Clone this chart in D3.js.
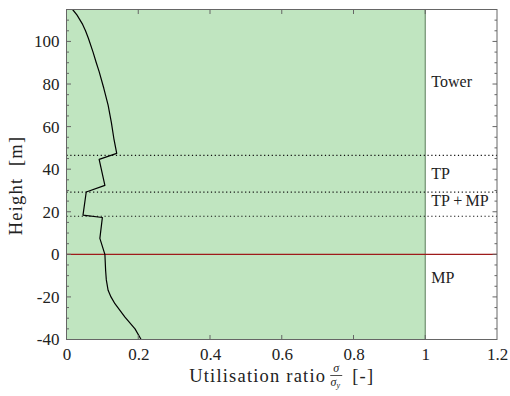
<!DOCTYPE html>
<html>
<head>
<meta charset="utf-8">
<script src="https://cdn.jsdelivr.net/npm/d3@7"></script>
<style>
  html, body { margin: 0; padding: 0; background: #fff; }
  svg { display: block; }
</style>
</head>
<body>
<div id="chart"></div>
<script>
// ---- data ----
const heights = [115, 112.5, 108, 105, 101.5, 95, 90, 85.8, 78, 70.1, 62, 54.4, 50, 47.4, 44.6, 32.4, 29.3, 18.4, 17.3, 7.5, 0, -7.5, -12, -16.9, -20, -23.2, -29.5, -35, -40];
const ratios  = [0.017, 0.029, 0.045, 0.053, 0.061, 0.074, 0.083, 0.091, 0.104, 0.116, 0.125, 0.132, 0.137, 0.140, 0.091, 0.107, 0.055, 0.046, 0.100, 0.093, 0.107, 0.109, 0.111, 0.116, 0.124, 0.135, 0.163, 0.191, 0.208];
const xTicks = [0, 0.2, 0.4, 0.6, 0.8, 1, 1.2];
const yTicks = [-40, -20, 0, 20, 40, 60, 80, 100];
const yMinorTicks = d3.range(-40, 116, 5);
const boundaries = [46.5, 29.2, 17.9];
const seaLevel = 0;
const utilLimit = 1;
const sectionNames = ["Tower", "TP", "TP\u2009+\u2009MP", "MP"];
const sectionLabelY = [81, 38, 25.3, -11];

// ---- layout ----
const W = 510, H = 396;
const m = { left: 66.5, right: 13, top: 9.5, bottom: 56.5 };
const svg = d3.select("#chart").append("svg").attr("width", W).attr("height", H);

const x = d3.scaleLinear().domain([0, 1.2]).range([m.left, W - m.right]);
const y = d3.scaleLinear().domain([-40, 115]).range([H - m.bottom, m.top]);
const FONT = '"Liberation Serif", "Times New Roman", serif';
const TXT = "#222";

// green region
svg.append("rect")
  .attr("x", x(0)).attr("y", y(115))
  .attr("width", x(utilLimit) - x(0)).attr("height", y(-40) - y(115))
  .attr("fill", "#c0e5c0");
svg.append("line")
  .attr("x1", x(utilLimit)).attr("x2", x(utilLimit))
  .attr("y1", y(115)).attr("y2", y(-40))
  .attr("stroke", "#6f8f6f").attr("stroke-width", 1.2);

// dotted boundaries
svg.selectAll(".bnd").data(boundaries).enter().append("line")
  .attr("x1", x(0)).attr("x2", x(1.2))
  .attr("y1", d => y(d)).attr("y2", d => y(d))
  .attr("stroke", "#111").attr("stroke-width", 1.2)
  .attr("stroke-dasharray", "1.2,2.6");

// sea level
svg.append("line")
  .attr("x1", x(0)).attr("x2", x(1.2))
  .attr("y1", y(seaLevel)).attr("y2", y(seaLevel))
  .attr("stroke", "#9e1b1b").attr("stroke-width", 1.3);

// curve
const pts = heights.map((h, i) => [ratios[i], h]);
svg.append("path")
  .datum(pts)
  .attr("fill", "none").attr("stroke", "#000").attr("stroke-width", 1.2)
  .attr("stroke-linejoin", "round")
  .attr("d", d3.line().x(d => x(d[0])).y(d => y(d[1])));

// axes box
const axCol = "#666";
svg.append("rect")
  .attr("x", x(0)).attr("y", y(115))
  .attr("width", x(1.2) - x(0)).attr("height", y(-40) - y(115))
  .attr("fill", "none").attr("stroke", axCol).attr("stroke-width", 1);

// bottom axis
const bottom = svg.append("g").attr("transform", `translate(0,${y(-40)})`)
  .call(d3.axisBottom(x).tickValues(xTicks).tickFormat(d => String(d)).tickSize(0).tickPadding(8.5));
bottom.select(".domain").remove();
bottom.selectAll("text").style("font-family", FONT).style("font-size", "17px").style("fill", TXT);
// x ticks inward (bottom and top)
svg.selectAll(".xt").data(xTicks.slice(1, -1)).enter().append("line")
  .attr("x1", d => x(d)).attr("x2", d => x(d))
  .attr("y1", y(-40)).attr("y2", y(-40) - 4.5).attr("stroke", axCol);
svg.selectAll(".xt2").data(xTicks.slice(1, -1)).enter().append("line")
  .attr("x1", d => x(d)).attr("x2", d => x(d))
  .attr("y1", y(115)).attr("y2", y(115) + 4.5).attr("stroke", axCol);

// left axis
const left = svg.append("g").attr("transform", `translate(${x(0)},0)`)
  .call(d3.axisLeft(y).tickValues(yTicks).tickFormat(d => String(d)).tickSize(0).tickPadding(7));
left.select(".domain").remove();
left.selectAll("text").style("font-family", FONT).style("font-size", "17px").style("fill", TXT);
// y ticks inward both sides
svg.selectAll(".yt").data(yMinorTicks).enter().append("line")
  .attr("x1", x(0)).attr("x2", d => x(0) + (d % 20 === 0 ? 4.5 : 2.5))
  .attr("y1", d => y(d)).attr("y2", d => y(d)).attr("stroke", axCol);
svg.selectAll(".yt2").data(yMinorTicks).enter().append("line")
  .attr("x1", x(1.2)).attr("x2", d => x(1.2) - (d % 20 === 0 ? 4.5 : 2.5))
  .attr("y1", d => y(d)).attr("y2", d => y(d)).attr("stroke", axCol);

// section labels
svg.selectAll(".sec").data(sectionNames).enter().append("text")
  .attr("x", x(1.017)).attr("y", (d, i) => y(sectionLabelY[i]))
  .attr("dominant-baseline", "central")
  .style("font-family", FONT).style("font-size", "16px").style("fill", TXT)
  .text(d => d);

// y label
svg.append("text")
  .attr("transform", `translate(22,${(y(-40) + y(115)) / 2 + 11}) rotate(-90)`)
  .attr("text-anchor", "middle")
  .style("font-family", FONT).style("font-size", "18.5px").style("letter-spacing", "1.2px").style("fill", TXT)
  .style("white-space", "pre")
  .text("Height  [m]");

// x label with fraction
const xl = svg.append("g");
const t1 = xl.append("text").attr("x", 0).attr("y", 382)
  .style("font-family", FONT).style("font-size", "18.5px").style("letter-spacing", "1.2px").style("fill", TXT)
  .text("Utilisation ratio");
const w1 = t1.node().getComputedTextLength();
const fracX = w1 + 4;
const fracW = 12;
xl.append("text").attr("x", fracX + fracW / 2).attr("y", 372).attr("text-anchor", "middle")
  .style("font-family", FONT).style("font-size", "12px").style("font-style", "italic").style("fill", TXT)
  .text("σ");
xl.append("line").attr("x1", fracX).attr("x2", fracX + fracW).attr("y1", 375.5).attr("y2", 375.5)
  .attr("stroke", TXT).attr("stroke-width", 0.8);
const den = xl.append("text").attr("x", fracX + fracW / 2 - 1).attr("y", 386).attr("text-anchor", "middle")
  .style("font-family", FONT).style("font-size", "12px").style("font-style", "italic").style("fill", TXT);
den.append("tspan").text("σ");
den.append("tspan").style("font-size", "8px").attr("dy", 2).text("y");
const t3 = xl.append("text").attr("x", fracX + fracW + 10).attr("y", 382)
  .style("font-family", FONT).style("font-size", "18.5px").style("letter-spacing", "1.2px").style("fill", TXT)
  .text("[-]");
const totalW = fracX + fracW + 10 + t3.node().getComputedTextLength();
xl.attr("transform", `translate(${(x(0) + x(1.2)) / 2 - totalW / 2},0)`);
</script>
</body>
</html>
